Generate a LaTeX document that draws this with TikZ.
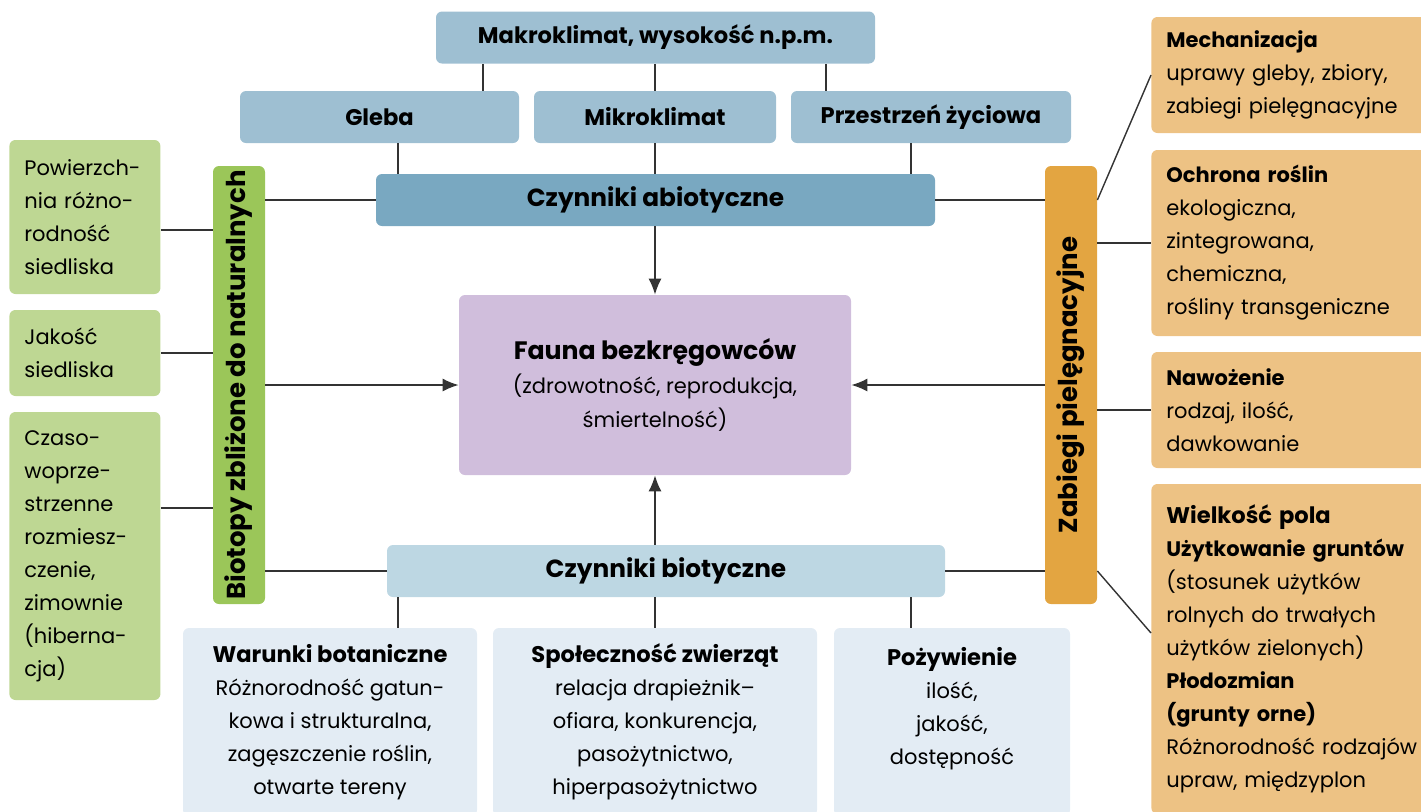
\documentclass[tikz,border=0pt]{standalone}
\usepackage{fontspec}
\setmainfont{Poppins}
\usetikzlibrary{arrows.meta}
\definecolor{topblue}{HTML}{9EBFD2}
\definecolor{abioblue}{HTML}{79A8C1}
\definecolor{bioblue}{HTML}{BDD7E3}
\definecolor{paleblue}{HTML}{E3ECF4}
\definecolor{faunapurple}{HTML}{D0BEDC}
\definecolor{bargreen}{HTML}{9BC659}
\definecolor{palegreen}{HTML}{BED793}
\definecolor{barorange}{HTML}{E3A541}
\definecolor{paleorange}{HTML}{EDC284}
\newcommand{\bigtitle}[1]{{\fontsize{11.3}{16.5}\selectfont\bfseries #1}}
\begin{document}
\begin{tikzpicture}[x=0.5pt,y=-0.5pt,font=\fontsize{10.5}{16.5}\selectfont]
	\tikzset{box/.style = {rounded corners=3pt,inner sep=0pt,align=center}}
	\tikzset{head/.style = {box,fill=topblue,minimum height=26pt,font=\fontsize{11.3}{16.5}\selectfont\bfseries}}
	\tikzset{mainhead/.style = {head,font=\fontsize{12.4}{16.5}\selectfont\bfseries}}
	\tikzset{leftbox/.style = {rounded corners=3pt,fill=palegreen,anchor=west,inner xsep=7.5pt,inner ysep=0pt,text width=60.5pt,align=left}}
	\tikzset{rightbox/.style = {rounded corners=3pt,fill=paleorange,anchor=west,inner xsep=7.5pt,inner ysep=0pt,text width=135pt,align=left}}
	\tikzset{bar/.style = {rounded corners=3pt,rotate=90,minimum width=219pt,minimum height=26pt,inner sep=0pt,font=\fontsize{13}{16.5}\selectfont\bfseries}}
	\tikzset{edge/.style = {draw,line width=0.7pt,black!80}}
	\tikzset{arrow/.style = {edge,-{Latex[length=8pt,width=6.5pt]}}}
	\useasboundingbox (0,0) rectangle (1421,811);
	\clip (0,0) rectangle (1421,811);
	% abiotic part
	\node[head,minimum width=219.5pt] (makro) at (655.5,37.5) {Makroklimat, wysokość n.p.m.};
	\node[head,minimum width=139.5pt] (gleba) at (379.5,117) {Gleba};
	\node[head,minimum width=121pt] (mikro) at (655,117) {Mikroklimat};
	\node[head,minimum width=140pt] (przes) at (931,117) {Przestrzeń życiowa};
	\node[mainhead,fill=abioblue,minimum width=279.5pt] (abio) at (655.5,200) {Czynniki abiotyczne};
	% centre
	\node[box,fill=faunapurple,minimum width=196pt,minimum height=90pt,font=\fontsize{10.5}{17}\selectfont] (fauna) at (655,385)
		{{\fontsize{12.6}{17}\selectfont\bfseries Fauna bezkręgowców}\\(zdrowotność, reprodukcja,\\śmiertelność)};
	% biotic part
	\node[mainhead,fill=bioblue,minimum width=279pt] (bio) at (666,571) {Czynniki biotyczne};
	\node[box,fill=paleblue,minimum width=147pt,minimum height=94pt] (warunki) at (330,722)
		{\bigtitle{Warunki botaniczne}\\Różnorodność gatun-\\kowa i strukturalna,\\zagęszczenie roślin,\\otwarte tereny};
	\node[box,fill=paleblue,minimum width=162pt,minimum height=94pt] (spol) at (655,722)
		{\bigtitle{Społeczność zwierząt}\\relacja drapieżnik–\\ofiara, konkurencja,\\pasożytnictwo,\\hiperpasożytnictwo};
	\node[box,fill=paleblue,minimum width=118pt,minimum height=94pt] (pozyw) at (952,722)
		{\bigtitle{Pożywienie}\\ilość,\\jakość,\\dostępność\\\mbox{}};
	% side bars
	\node[bar,fill=bargreen] (biotop) at (239,385) {Biotopy zbliżone do naturalnych};
	\node[bar,fill=barorange] (zabiegi) at (1071,385) {Zabiegi pielęgnacyjne};
	% left boxes
	\node[leftbox,minimum height=77pt] (pow) at (9,217) {Powierzch-\\nia różno-\\rodność\\siedliska};
	\node[leftbox,minimum height=43pt] (jak) at (9,353) {Jakość\\siedliska};
	\node[leftbox,minimum height=144pt] (czas) at (9,556) {Czaso-\\woprze-\\strzenne\\rozmiesz-\\czenie,\\zimownie\\(hiberna-\\cja)};
	% right boxes
	\node[rightbox,minimum height=58pt] (mech) at (1151,75) {\textbf{Mechanizacja}\\uprawy gleby, zbiory,\\zabiegi pielęgnacyjne};
	\node[rightbox,minimum height=93pt] (ochr) at (1151,243) {\textbf{Ochrona roślin}\\ekologiczna,\\zintegrowana,\\chemiczna,\\rośliny transgeniczne};
	\node[rightbox,minimum height=58pt] (nawoz) at (1151,410) {\textbf{Nawożenie}\\rodzaj, ilość,\\dawkowanie};
	\node[rightbox,minimum height=165pt] (wiel) at (1151,649) {\bigtitle{Wielkość pola}\\\textbf{Użytkowanie gruntów}\\(stosunek użytków\\rolnych do trwałych\\użytków zielonych)\\\textbf{Płodozmian}\\\textbf{(grunty orne)}\\Różnorodność rodzajów\\upraw, międzyplon};
	% connectors
	\coordinate (ml) at (483,0);
	\coordinate (mr) at (826,0);
	\coordinate (cl) at (398,0);
	\coordinate (cr) at (911,0);
	\path[edge] (ml |- makro.south) -- (ml |- gleba.north);
	\path[edge] (makro.south -| mikro.north) -- (mikro.north);
	\path[edge] (mr |- makro.south) -- (mr |- przes.north);
	\path[edge] (cl |- gleba.south) -- (cl |- abio.north);
	\path[edge] (mikro.south) -- (mikro.south |- abio.north);
	\path[edge] (cr |- przes.south) -- (cr |- abio.north);
	\path[arrow] (abio.south -| fauna.north) -- (fauna.north);
	\path[arrow] (bio.north -| fauna.south) -- (fauna.south);
	\path[edge] (cl |- bio.south) -- (cl |- warunki.north);
	\path[edge] (bio.south -| spol.north) -- (spol.north);
	\path[edge] (cr |- bio.south) -- (cr |- pozyw.north);
	\path[edge] ([yshift=-6.5pt]pow.east) -- ([yshift=-6.5pt]pow.east -| biotop.north);
	\path[edge] (jak.east) -- (jak.east -| biotop.north);
	\path[edge] ([yshift=24pt]czas.east) -- ([yshift=24pt]czas.east -| biotop.north);
	\path[edge] (biotop.south |- abio.west) -- (abio.west);
	\path[arrow] (biotop.south |- fauna.west) -- (fauna.west);
	\path[edge] (biotop.south |- bio.west) -- (bio.west);
	\path[edge] (abio.east) -- (abio.east -| zabiegi.north);
	\path[arrow] (zabiegi.north |- fauna.east) -- (fauna.east);
	\path[edge] (bio.east) -- (bio.east -| zabiegi.north);
	\path[edge] (zabiegi.south |- abio.east) -- (mech.west);
	\path[edge] (zabiegi.south |- ochr.west) -- (ochr.west);
	\path[edge] (zabiegi.south |- nawoz.west) -- (nawoz.west);
	\path[edge] (zabiegi.south |- bio.east) -- ([yshift=8pt]wiel.west);
\end{tikzpicture}
\end{document}
